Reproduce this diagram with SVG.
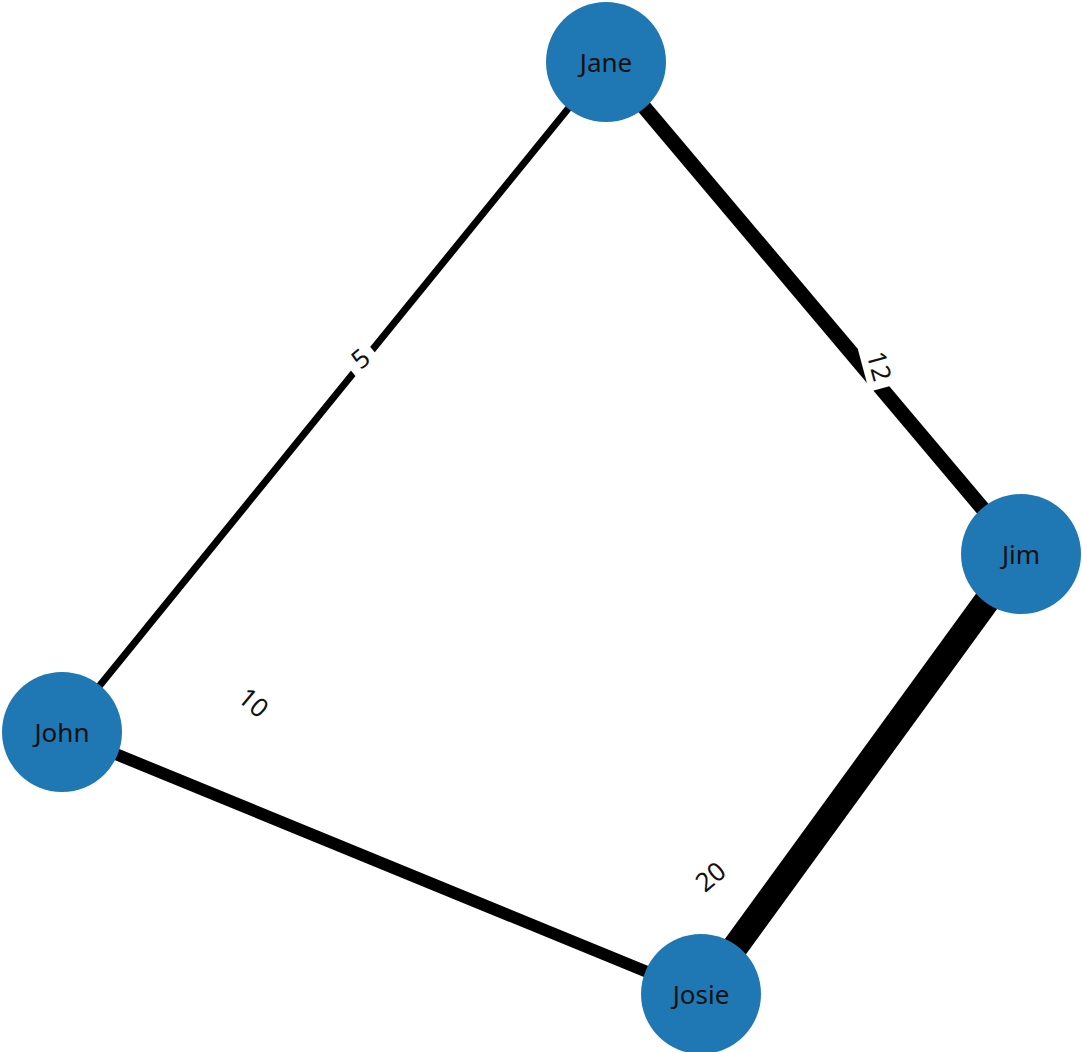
<svg xmlns="http://www.w3.org/2000/svg" width="1082" height="1052" viewBox="0 0 1082 1052">
<style>
.edge{stroke:#000;stroke-linecap:butt;fill:none}
.node circle{fill:#1f77b4}
.node text{font-family:"Noto Sans","DejaVu Sans",sans-serif;font-size:26px;fill:#111;text-anchor:middle;dominant-baseline:central}
.elabel text{font-family:"Noto Sans","DejaVu Sans",sans-serif;font-size:26px;fill:#111;text-anchor:middle;dominant-baseline:central}
.elabel rect{fill:#fff}
</style>
<rect width="1082" height="1052" fill="#fff"/>
<g id="connectors">
<line class="edge" x1="606" y1="62" x2="62" y2="732" stroke-width="7"/>
<line class="edge" x1="606" y1="62" x2="1021" y2="554" stroke-width="15"/>
<line class="edge" x1="1021" y1="554" x2="701" y2="994" stroke-width="26"/>
<line class="edge" x1="62" y1="732" x2="701" y2="994" stroke-width="12"/>
<g class="elabel" id="label-5" transform="translate(360,358) rotate(-40)">
<rect x="-15" y="-17" width="30" height="34"/>
<text x="0" y="0">5</text>
</g>
<g class="elabel" id="label-12" transform="translate(880,366) rotate(75)">
<rect x="-22" y="-17" width="44" height="34"/>
<text x="0" y="0">12</text>
</g>
<g class="elabel" id="label-10" transform="translate(254,702) rotate(40)">
<text x="0" y="0">10</text>
</g>
<g class="elabel" id="label-20" transform="translate(710,876) rotate(-40)">
<text x="0" y="0">20</text>
</g>
</g>
<g id="node-jane" class="node"><circle cx="606" cy="62" r="60"/><text x="606" y="62">Jane</text></g>
<g id="node-jim" class="node"><circle cx="1021" cy="554" r="60"/><text x="1021" y="554">Jim</text></g>
<g id="node-john" class="node"><circle cx="62" cy="732" r="60"/><text x="62" y="732">John</text></g>
<g id="node-josie" class="node"><circle cx="701" cy="994" r="60"/><text x="701" y="994">Josie</text></g>
</svg>
